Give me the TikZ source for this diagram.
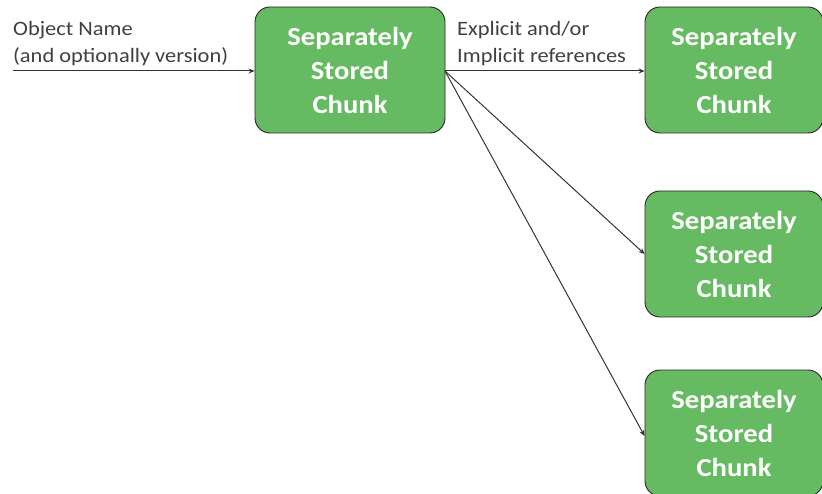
\documentclass[tikz,border=0pt]{standalone}
\usepackage{fontspec}
\setmainfont{Carlito}[FakeStretch=1.1]
\usetikzlibrary{arrows.meta}
\definecolor{chunkgreen}{RGB}{102,187,98}
\definecolor{labelgray}{RGB}{64,64,64}
\tikzset{
  chunk/.style={draw=black!85, line width=0.9pt, fill=chunkgreen, rounded corners=15pt,
    minimum width=#1, minimum height=126pt, inner sep=0pt, align=center,
    text=white, font=\fontsize{26}{34}\selectfont\bfseries},
  chunk/.default=190pt,
  ref/.style={draw=black!80, line width=1pt, -{Stealth[length=6pt,width=5pt]}},
  lbl/.style={text=labelgray, font=\fontsize{20.4}{27}\selectfont, align=left, anchor=south west, inner sep=0pt}
}
\begin{document}
\begin{tikzpicture}[x=1pt,y=-1pt]
  \useasboundingbox (0,0) rectangle (822,494);
  \begin{scope}
    \clip (0,0) rectangle (822,494);
    \node[chunk] (root) at (350,70) {Separately\\Stored\\Chunk};
    \node[chunk=178pt] (c1) at (734,70) {Separately\\Stored\\Chunk};
    \node[chunk=178pt] (c2) at (734,254) {Separately\\Stored\\Chunk};
    \node[chunk=178pt] (c3) at (734,433) {Separately\\Stored\\Chunk};
  \end{scope}
  \coordinate (in) at (13,71);
  \coordinate (fan) at (445,71);
  \draw[ref] (in) -- (root.west |- in);
  \draw[ref] (fan) -- (c1.west |- fan);
  \draw[ref] (fan) -- (c2.west);
  \draw[ref] (fan) -- ([yshift=-3pt]c3.west);
  \node[lbl] (objname) at (13,66) {Object Name\\(and optionally version)};
  \node[lbl] (reflbl) at (457,66) {Explicit and/or\\Implicit references};
\end{tikzpicture}
\end{document}
